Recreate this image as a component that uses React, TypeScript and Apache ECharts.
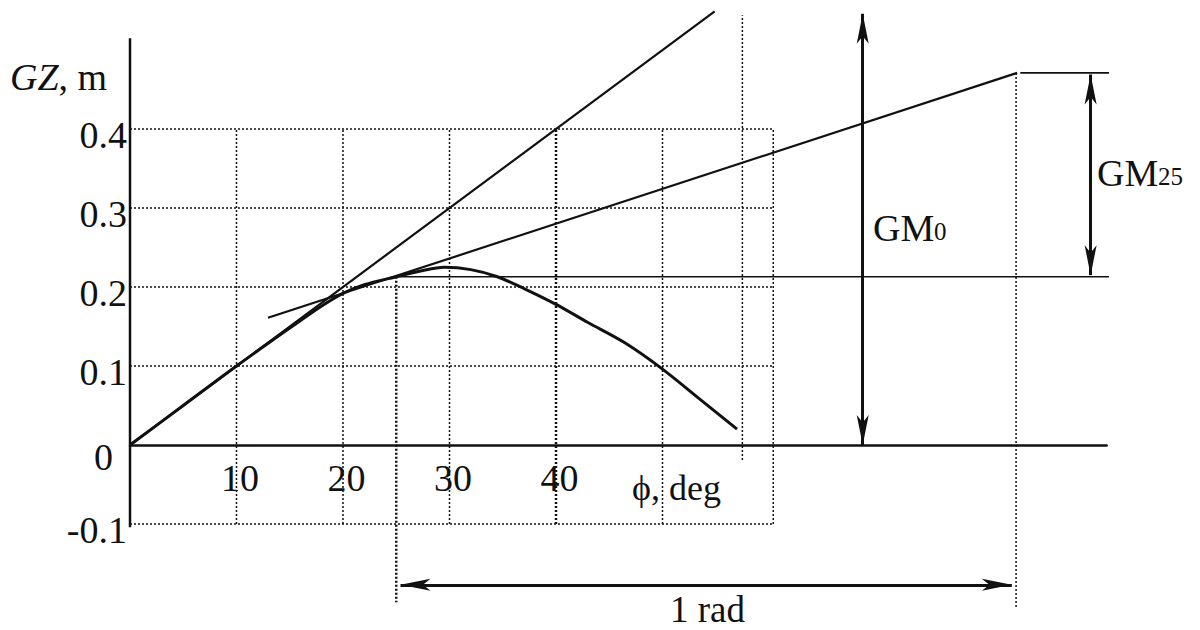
import React, { useEffect, useRef } from "react";
import * as echarts from "echarts";

const FONT = '"Liberation Serif", "Times New Roman", serif';
const INK = "#111";

// GZ curve (heel angle in degrees, righting arm in metres)
const phiDeg = [0, 5, 10, 15, 18, 20, 22, 25, 27.5, 29.5, 32, 34.5, 37, 40, 43, 46.5, 50, 53.5, 57];
const gzValues = [0, 0.05, 0.1, 0.148, 0.176, 0.192, 0.203, 0.213, 0.221, 0.225, 0.222, 0.213, 0.198, 0.178, 0.155, 0.129, 0.096, 0.058, 0.02];

// tick labels
const xTickLabels = [10, 20, 30, 40];
const yTickLabels = [-0.1, 0, 0.1, 0.2, 0.3, 0.4];

// dotted reference grid
const gridXs = [10, 20, 30, 40, 50, 60.4];
const gridYs = [-0.1, 0.1, 0.2, 0.3, 0.4];
const gridXRange = [0, 60.4];
const gridYRange = [-0.1, 0.4];

// straight construction lines [x, y]
const yAxisLine = [[0, -0.104], [0, 0.515]];
const tangentGM0 = [[0, 0], [54.9, 0.549]];
const tangentGM25 = [[12.96, 0.161], [83.3, 0.471]];
const levelGZ25 = [[25, 0.213], [93.7, 0.213]];
const levelTop = [[83.6, 0.471], [92.0, 0.471]];
const dottedRad = [[57.5, -0.019], [57.5, 0.544]];
const dotted25 = [[25, 0.213], [25, -0.199]];
const dottedEnd = [[83.2, 0.471], [83.2, -0.205]];

// double-headed arrows (tip to tip)
const arrowGM0 = [[68.8, 0.0], [68.8, 0.546]];
const arrowGM25 = [[90.2, 0.215], [90.2, 0.469]];
const arrowRad = [[25.4, -0.177], [82.8, -0.177]];

const Y_MIN = -0.2;
const Y_MAX = 0.55;
const PX_PER_UNIT = 790;

function seg(pts: number[][], width: number, type: any = "solid", z = 2) {
  return {
    type: "line",
    data: pts,
    symbol: "none",
    showSymbol: false,
    clip: false,
    silent: true,
    z,
    lineStyle: { color: INK, width, type },
  };
}

export default function App() {
  const ref = useRef<HTMLDivElement>(null);
  useEffect(() => {
    const chart = echarts.init(ref.current!, null, { renderer: "svg" });
    const dotted: any[] = [];
    gridXs.forEach((x) =>
      dotted.push(seg([[x, gridYRange[0]], [x, gridYRange[1]]], x === 40 ? 2.5 : 1.5, [2, 2], 1))
    );
    gridYs.forEach((y) =>
      dotted.push(seg([[gridXRange[0], y], [gridXRange[1], y]], 1.5, [2, 2], 1))
    );
    dotted.push(seg(dottedRad, 1.5, [2, 2], 1));
    dotted.push(seg(dotted25, 2.5, [2, 2], 1));
    dotted.push(seg(dottedEnd, 1.5, [2, 2], 1));

    const option: any = {
      animation: false,
      backgroundColor: "#fff",
      grid: {
        left: 130,
        right: 93.4,
        top: 10.5,
        bottom: 27,
        containLabel: false,
        outerBoundsMode: "none",
      },
      xAxis: {
        type: "value",
        min: 0,
        max: 91.7,
        interval: 10,
        position: "bottom",
        offset: Y_MIN * PX_PER_UNIT,
        axisLine: { show: true, onZero: false, lineStyle: { color: INK, width: 2.5 } },
        axisTick: { show: false },
        splitLine: { show: false },
        axisLabel: {
          margin: 14,
          fontFamily: FONT,
          fontSize: 38,
          color: INK,
          padding: [0, 0, 0, 7],
          formatter: (v: number) => (xTickLabels.includes(Math.round(v)) ? String(Math.round(v)) : ""),
        },
      },
      yAxis: {
        type: "value",
        min: Y_MIN,
        max: Y_MAX,
        interval: 0.1,
        axisLine: { show: false },
        axisTick: { show: false },
        splitLine: { show: false },
        axisLabel: {
          margin: 3,
          fontFamily: FONT,
          fontSize: 38,
          color: INK,
          padding: [12, 0, 0, 0],
          formatter: (v: number) => {
            const r = Math.round(v * 10) / 10;
            if (!yTickLabels.includes(r)) return "";
            if (r === 0) return "{z|0}";
            return r.toFixed(1);
          },
          rich: {
            z: { fontFamily: FONT, fontSize: 38, color: INK, padding: [12, 14, 0, 0] },
          },
        },
      },
      series: [
        ...dotted,
        seg(yAxisLine, 2.5, "solid", 3),
        seg(tangentGM0, 2.2, "solid", 3),
        seg(tangentGM25, 2.2, "solid", 3),
        seg(levelGZ25, 1.6, "solid", 3),
        seg(levelTop, 1.8, "solid", 3),
        {
          type: "line",
          data: phiDeg.map((p, i) => [p, gzValues[i]]),
          symbol: "none",
          smooth: 0.3,
          clip: false,
          silent: true,
          z: 4,
          lineStyle: { color: INK, width: 3 },
        },
        {
          type: "line",
          data: [],
          clip: false,
          silent: true,
          z: 5,
          markLine: {
            silent: true,
            symbol: ["arrow", "arrow"],
            symbolSize: [9, 30],
            label: { show: false },
            lineStyle: { color: INK, width: 3, type: "solid" },
            emphasis: { disabled: true },
            data: [arrowGM0, arrowGM25, arrowRad].map((a) => [{ coord: a[0] }, { coord: a[1] }]),
          },
        },
      ],
      graphic: [
        {
          type: "text",
          left: 10,
          top: 58,
          style: {
            text: "{i|GZ}{n|, m}",
            rich: {
              i: { fontFamily: FONT, fontSize: 38, fontStyle: "italic", fill: INK },
              n: { fontFamily: FONT, fontSize: 38, fill: INK },
            },
          },
        },
        { type: "text", x: 873, y: 227.5, style: { text: "GM", font: `38px ${FONT}`, fill: INK, verticalAlign: "middle" } },
        { type: "text", x: 934, y: 231.6, style: { text: "0", font: `25px ${FONT}`, fill: INK, verticalAlign: "middle" } },
        { type: "text", x: 1097, y: 172.5, style: { text: "GM", font: `38px ${FONT}`, fill: INK, verticalAlign: "middle" } },
        { type: "text", x: 1158, y: 176.6, style: { text: "25", font: `25px ${FONT}`, fill: INK, verticalAlign: "middle" } },
        { type: "text", x: 632, y: 488, style: { text: "ϕ, deg", font: `36px ${FONT}`, fill: INK, verticalAlign: "middle" } },
        { type: "text", x: 670, y: 609, style: { text: "1 rad", font: `37px ${FONT}`, fill: INK, verticalAlign: "middle" } },
      ],
    };
    chart.setOption(option);
    return () => chart.dispose();
  }, []);
  return (
    <div
      ref={ref}
      style={{ position: "absolute", left: 0, top: 0, width: 1200, height: 630, background: "#fff" }}
    />
  );
}
